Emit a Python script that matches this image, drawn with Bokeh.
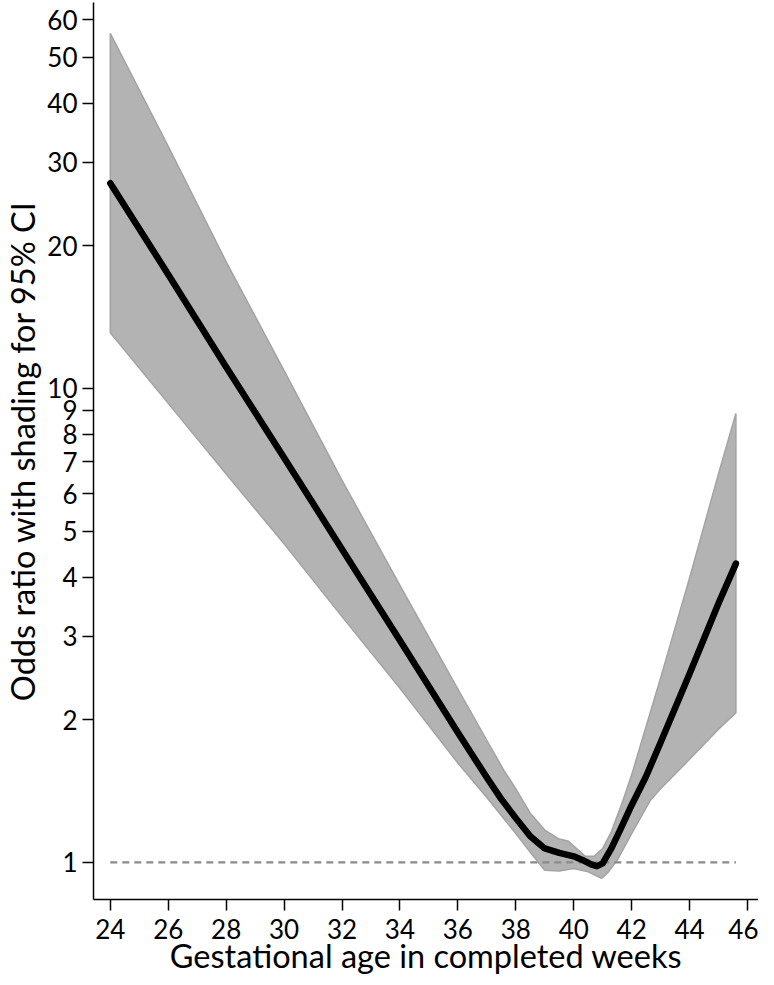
from bokeh.plotting import figure
from bokeh.models import FixedTicker, Range1d
from bokeh.embed import file_html
from bokeh.resources import INLINE

# Central estimate (odds ratio) by gestational week
weeks = [24, 26, 28, 30, 32, 34, 36, 37, 37.5, 38, 38.5, 39, 39.5, 40, 40.3, 40.6,
         40.8, 41.0, 41.3, 41.6, 42, 42.5, 43, 44, 45, 45.6]
odds = [27.1, 17.4, 11.1, 7.14, 4.58, 2.94, 1.88, 1.51, 1.36, 1.24, 1.135, 1.07, 1.047,
        1.03, 1.012, 0.99, 0.982, 0.995, 1.07, 1.17, 1.32, 1.52, 1.79, 2.50, 3.52, 4.27]

# 95% CI band: upper limit
up_weeks = [24, 26, 28, 30, 32, 34, 36, 37, 37.6, 38, 38.5, 39, 39.5, 39.8, 40.1, 40.4,
            40.7, 41.0, 41.3, 41.7, 42, 43, 44, 45, 45.6]
ci_upper = [56.1, 32.4, 18.5, 10.9, 6.40, 3.84, 2.32, 1.81, 1.56, 1.43, 1.27, 1.17, 1.12,
            1.11, 1.07, 1.03, 1.03, 1.07, 1.16, 1.35, 1.53, 2.45, 3.98, 6.61, 8.85]
# 95% CI band: lower limit
lo_weeks = [24, 26, 28, 30, 32, 34, 36, 37, 38, 38.5, 39, 39.5, 40, 40.5, 40.96, 41.2,
            41.5, 42, 42.64, 43, 44, 45, 45.6]
ci_lower = [13.1, 9.30, 6.60, 4.70, 3.30, 2.33, 1.62, 1.37, 1.15, 1.05, 0.962, 0.959,
            0.971, 0.955, 0.925, 0.955, 1.01, 1.15, 1.35, 1.43, 1.65, 1.91, 2.07]

xticks = [24, 26, 28, 30, 32, 34, 36, 38, 40, 42, 44, 46]
yticks = [1, 2, 3, 4, 5, 6, 7, 8, 9, 10, 20, 30, 40, 50, 60]

FONT = "Lato"

p = figure(width=758, height=977, y_axis_type="log",
           x_range=Range1d(23.42, 46.38), y_range=Range1d(0.835, 65.2),
           output_backend="svg", toolbar_location=None,
           min_border_left=88, min_border_top=2, min_border_right=0, min_border_bottom=78)
p.outline_line_color = None
p.xgrid.visible = False
p.ygrid.visible = False
p.background_fill_color = "white"

# CI polygon: upper edge followed by lower edge reversed
poly_x = list(up_weeks) + list(reversed(lo_weeks))
poly_y = list(ci_upper) + list(reversed(ci_lower))
p.patch(poly_x, poly_y, fill_color="#b3b3b3", line_color="#a3a3a3", line_width=1.5)

# reference line at OR = 1
p.line([24, 45.6], [1, 1], line_color="#8a8a8a", line_width=2.2, line_dash="7 5")

# central estimate
p.line(weeks, odds, line_color="black", line_width=6.5, line_cap="round", line_join="round")

for ax in (p.xaxis[0], p.yaxis[0]):
    ax.major_label_text_font = FONT
    ax.axis_label_text_font = FONT
    ax.axis_label_text_font_style = "normal"
    ax.major_label_text_font_size = "26px"
    ax.axis_label_text_font_size = "32.5px"
    ax.major_label_text_color = "black"
    ax.axis_label_text_color = "black"
    ax.axis_line_color = "black"
    ax.axis_line_width = 1.5
    ax.major_tick_line_color = "black"
    ax.major_tick_line_width = 1.5
    ax.major_tick_out = 11
    ax.major_tick_in = 0
    ax.minor_tick_out = 0
    ax.minor_tick_in = 0

p.xaxis.ticker = FixedTicker(ticks=xticks)
p.yaxis.ticker = FixedTicker(ticks=yticks)
p.yaxis.major_label_overrides = {t: str(t) for t in yticks}
p.xaxis.axis_label = "Gestational age in completed weeks"
p.yaxis.axis_label = "Odds ratio with shading for 95% CI"
p.xaxis.major_label_standoff = 8
p.yaxis.major_label_standoff = 5
p.xaxis.axis_label_standoff = -6
p.yaxis.axis_label_standoff = 2

open("out.html", "w").write(file_html(p, INLINE))
